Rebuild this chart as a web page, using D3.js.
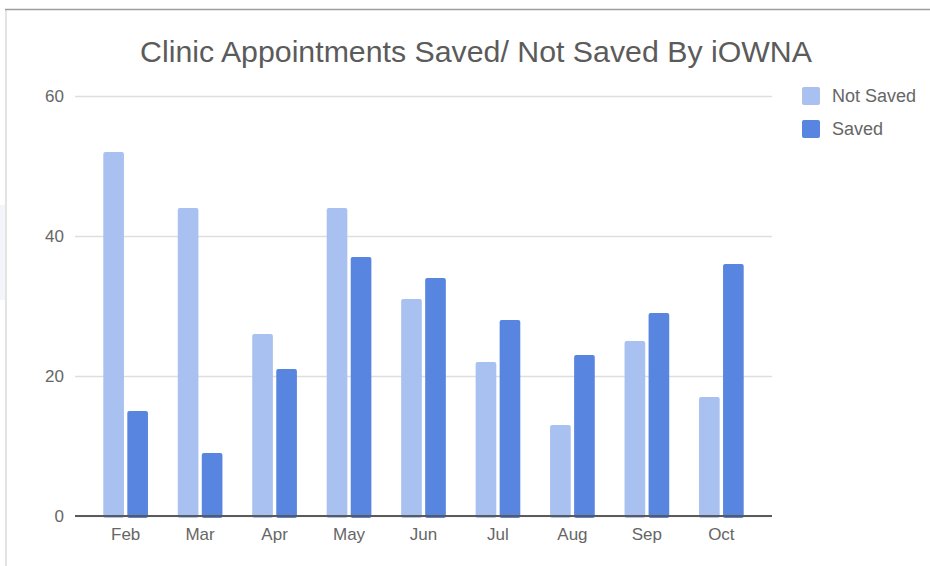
<!DOCTYPE html>
<html>
<head>
<meta charset="utf-8">
<script src="https://cdn.jsdelivr.net/npm/d3@7"></script>
<style>
  body { margin: 0; background: #fff; }
  svg { display: block; font-family: "Liberation Sans", Arial, sans-serif; }
</style>
</head>
<body>
<svg width="930" height="566"></svg>
<script>
const months = ['Feb', 'Mar', 'Apr', 'May', 'Jun', 'Jul', 'Aug', 'Sep', 'Oct'];
const notSaved = [52, 44, 26, 44, 31, 22, 13, 25, 17];
const saved = [15, 9, 21, 37, 34, 28, 23, 29, 36];
const seriesNames = ['Not Saved', 'Saved'];
const yTicks = [0, 20, 40, 60];

const colors = { 'Not Saved': '#a9c1f0', 'Saved': '#5885e0' };

const data = months.map((m, i) => ({ month: m, 'Not Saved': notSaved[i], 'Saved': saved[i] }));

const svg = d3.select('svg');
const margin = { top: 96, left: 75, right: 158, bottom: 50 };
const width = 930, height = 566;
const innerwidth = width - margin.left - margin.right;
const baseY = height - margin.bottom;

// screenshot frame
svg.append('rect').attr('x', 0).attr('y', 205).attr('width', 5).attr('height', 95).attr('fill', '#f2f6fa');
svg.append('line').attr('x1', 6).attr('x2', 6).attr('y1', 10).attr('y2', height)
  .attr('stroke', '#e3e3e3').attr('stroke-width', 2);
svg.append('line').attr('x1', 5).attr('x2', width).attr('y1', 9.5).attr('y2', 9.5)
  .attr('stroke', '#9e9e9e').attr('stroke-width', 1.5);

const xscale = d3.scaleBand()
  .domain(months)
  .range([margin.left, margin.left + innerwidth])
  .paddingInner(0)
  .paddingOuter(0.18);

const bw = xscale.bandwidth();
const x1 = d3.scaleBand()
  .domain(seriesNames)
  .range([bw * 0.2, bw * 0.8])
  .paddingInner(0.14);

const yscale = d3.scaleLinear().domain([0, 60]).range([baseY, margin.top]);

// gridlines + labels
const yAxis = d3.axisLeft(yscale)
  .tickValues(yTicks)
  .tickSize(-innerwidth)
  .tickPadding(11)
  .tickFormat(d3.format('d'));

const yG = svg.append('g')
  .attr('transform', `translate(${margin.left},0)`)
  .call(yAxis);
yG.select('.domain').remove();
yG.selectAll('.tick line').attr('stroke', '#dedede').attr('stroke-width', 1.5);
yG.selectAll('.tick text')
  .attr('fill', '#666')
  .style('font-size', '17px')
  .style('font-family', '"Liberation Sans", Arial, sans-serif');

// bars
const groups = svg.append('g').selectAll('g')
  .data(data)
  .join('g')
  .attr('transform', d => `translate(${xscale(d.month)},0)`);

groups.selectAll('rect')
  .data(d => seriesNames.map(k => ({ key: k, value: d[k] })))
  .join('rect')
  .attr('x', d => x1(d.key))
  .attr('y', d => yscale(d.value))
  .attr('width', x1.bandwidth())
  .attr('height', d => baseY - yscale(d.value) + 2)
  .attr('rx', 2)
  .attr('fill', d => colors[d.key]);

// baseline
svg.append('line')
  .attr('x1', margin.left).attr('x2', margin.left + innerwidth)
  .attr('y1', baseY).attr('y2', baseY)
  .attr('stroke', '#5a5a5a').attr('stroke-width', 2);

// month labels
const xAxis = d3.axisBottom(xscale).tickSize(0).tickPadding(12);
const xG = svg.append('g')
  .attr('transform', `translate(0,${baseY})`)
  .call(xAxis);
xG.select('.domain').remove();
xG.selectAll('.tick text')
  .attr('fill', '#666')
  .style('font-size', '17px')
  .style('font-family', '"Liberation Sans", Arial, sans-serif');

// title
svg.append('text')
  .text('Clinic Appointments Saved/ Not Saved By iOWNA')
  .attr('x', 476)
  .attr('y', 62)
  .attr('text-anchor', 'middle')
  .attr('fill', '#5b5b5b')
  .style('font-size', '30.3px');

// legend
const legend = svg.append('g').selectAll('g')
  .data(seriesNames)
  .join('g')
  .attr('transform', (d, i) => `translate(802,${87 + i * 33})`);

legend.append('rect')
  .attr('width', 18).attr('height', 18).attr('rx', 2)
  .attr('fill', d => colors[d]);

legend.append('text')
  .text(d => d)
  .attr('x', 30)
  .attr('y', 15)
  .attr('fill', '#666')
  .style('font-size', '18px');
</script>
</body>
</html>
